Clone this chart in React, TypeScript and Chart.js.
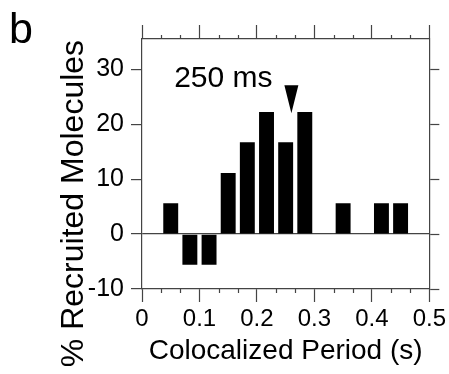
import React, { useEffect, useRef } from 'react';
import { Chart, registerables } from 'chart.js';

Chart.register(...registerables);

// ---- data ----
const binCenters = [0.05, 0.0833, 0.1167, 0.15, 0.1833, 0.2167, 0.25, 0.2833, 0.35, 0.4167, 0.45];
const recruitedPercent = [5.6, -5.6, -5.6, 11.1, 16.7, 22.2, 16.7, 22.2, 5.6, 5.6, 5.6];
const xMajorTicks = [0, 0.1, 0.2, 0.3, 0.4, 0.5];
const xMinorTicks = [0.0333, 0.0667, 0.1333, 0.1667, 0.2333, 0.2667, 0.3333, 0.3667, 0.4333, 0.4667];
const yTicks = [-10, 0, 10, 20, 30];
const xTitle = 'Colocalized Period (s)';
const yTitle = '% Recruited Molecules';
const panelLabel = 'b';
const annotationText = '250 ms';
const markerX = 0.26;
const markerTipY = 22;

const FONT = '"Liberation Sans", Arial, Helvetica, sans-serif';
const AXIS = '#444';

export default function App() {
  const ref = useRef<HTMLCanvasElement>(null);

  useEffect(() => {
    document.body.style.margin = '0';
    const canvas = ref.current!;

    const decor = {
      id: 'decor',
      afterDraw(chart: any) {
        const ctx = chart.ctx as CanvasRenderingContext2D;
        const xs = chart.scales.x;
        const ys = chart.scales.y;
        const { top, bottom } = chart.chartArea;
        ctx.save();
        // minor ticks (outward) on bottom and top axes
        ctx.strokeStyle = AXIS;
        ctx.lineWidth = 1.2;
        ctx.beginPath();
        for (const v of xMinorTicks) {
          const px = Math.round(xs.getPixelForValue(v)) + 0.5;
          ctx.moveTo(px, bottom);
          ctx.lineTo(px, bottom + 4);
          ctx.moveTo(px, top);
          ctx.lineTo(px, top - 4);
        }
        ctx.stroke();

        // marker triangle
        const tx = xs.getPixelForValue(markerX);
        const ty = ys.getPixelForValue(markerTipY);
        ctx.fillStyle = '#000';
        ctx.beginPath();
        ctx.moveTo(tx, ty);
        ctx.lineTo(tx - 7, ty - 28);
        ctx.lineTo(tx + 7, ty - 28);
        ctx.closePath();
        ctx.fill();

        // annotation text
        ctx.font = `30px ${FONT}`;
        ctx.textAlign = 'left';
        ctx.textBaseline = 'alphabetic';
        ctx.fillText(annotationText, xs.getPixelForValue(0.056), ys.getPixelForValue(26.7));

        // panel label
        ctx.font = `43px ${FONT}`;
        ctx.fillText(panelLabel, 9, 43);

        // y title
        ctx.save();
        ctx.translate(83, 203.5);
        ctx.rotate(-Math.PI / 2);
        ctx.font = `32px ${FONT}`;
        ctx.textAlign = 'center';
        ctx.textBaseline = 'alphabetic';
        ctx.fillText(yTitle, 0, 0);
        ctx.restore();

        ctx.restore();
      },
    };

    const chart = new Chart(canvas, {
      type: 'bar',
      data: {
        datasets: [
          {
            data: binCenters.map((c, i) => ({ x: c, y: recruitedPercent[i] })),
            backgroundColor: '#000',
            borderWidth: 0,
            barPercentage: 0.78,
            categoryPercentage: 1,
          } as any,
        ],
      },
      options: {
        responsive: false,
        animation: false,
        devicePixelRatio: 1,
        layout: { padding: 0 },
        plugins: { legend: { display: false }, tooltip: { enabled: false } },
        scales: {
          x: {
            type: 'linear',
            position: 'bottom',
            min: 0,
            max: 0.5,
            offset: false,
            afterBuildTicks: (s: any) => {
              s.ticks = xMajorTicks.map((v) => ({ value: v }));
            },
            ticks: {
              font: { family: FONT, size: 24 },
              color: '#000',
              padding: 3,
              maxRotation: 0,
              autoSkip: false,
              callback: (v: any) => String(v),
            },
            grid: {
              offset: false,
              drawOnChartArea: false,
              tickLength: 13,
              tickColor: AXIS,
              tickWidth: 1.2,
              color: AXIS,
            },
            border: { color: AXIS, width: 1.2 },
            title: {
              display: true,
              text: xTitle,
              font: { family: FONT, size: 28 },
              color: '#000',
              padding: { top: 0, bottom: 6 },
            },
            afterFit: (s: any) => {
              s.height = 85;
            },
          },
          x2: {
            type: 'linear',
            position: 'top',
            min: 0,
            max: 0.5,
            offset: false,
            afterBuildTicks: (s: any) => {
              s.ticks = xMajorTicks.map((v) => ({ value: v }));
            },
            ticks: { display: false },
            grid: {
              offset: false,
              drawOnChartArea: false,
              tickLength: 14,
              tickColor: AXIS,
              tickWidth: 1.2,
              color: AXIS,
            },
            border: { color: AXIS, width: 1.2 },
            afterFit: (s: any) => {
              s.height = 39;
            },
          },
          y: {
            type: 'linear',
            position: 'left',
            min: -10,
            max: 35.5,
            afterBuildTicks: (s: any) => {
              s.ticks = yTicks.map((v) => ({ value: v }));
            },
            ticks: {
              font: { family: FONT, size: 25 },
              color: '#000',
              padding: 7,
            },
            grid: {
              drawOnChartArea: true,
              color: (c: any) => (c.tick && c.tick.value === 0 ? AXIS : 'rgba(0,0,0,0)'),
              lineWidth: 1.2,
              tickLength: 11,
              tickColor: AXIS,
              tickWidth: 1.2,
            },
            border: { color: AXIS, width: 1.2 },
            afterFit: (s: any) => {
              s.width = 142;
            },
          },
          y2: {
            type: 'linear',
            position: 'right',
            min: -10,
            max: 35.5,
            afterBuildTicks: (s: any) => {
              s.ticks = yTicks.map((v) => ({ value: v }));
            },
            ticks: { display: false },
            grid: {
              drawOnChartArea: false,
              tickLength: 10,
              tickColor: AXIS,
              tickWidth: 1.2,
              color: AXIS,
            },
            border: { color: AXIS, width: 1.2 },
            afterFit: (s: any) => {
              s.width = 19;
            },
          },
        },
      } as any,
      plugins: [decor],
    });

    return () => chart.destroy();
  }, []);

  return <canvas ref={ref} width={449} height={374} style={{ display: 'block' }} />;
}
